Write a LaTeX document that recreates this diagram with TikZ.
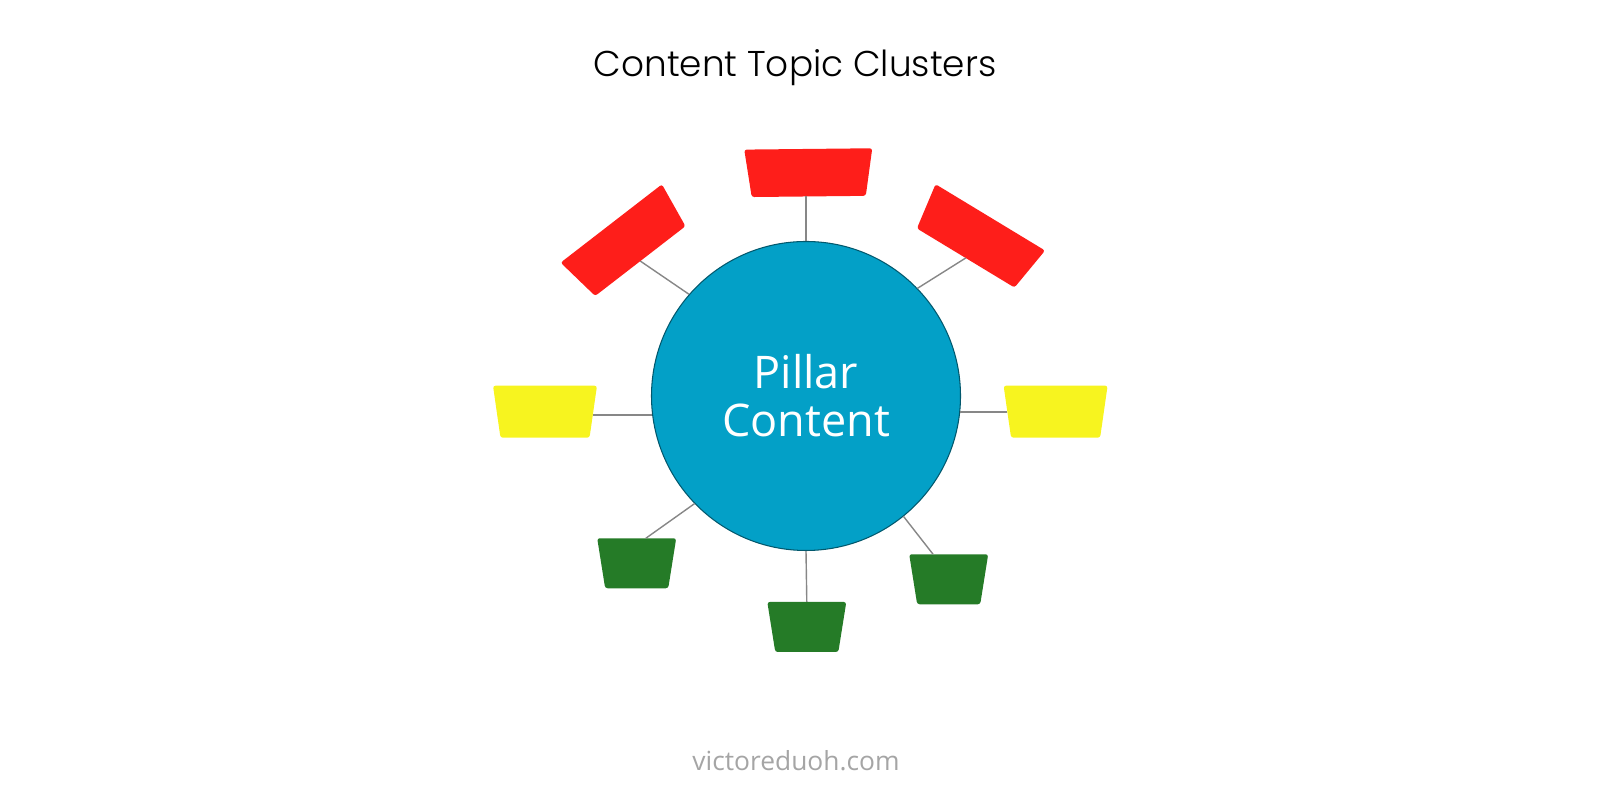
\documentclass[tikz,border=0pt]{standalone}
\usepackage{fontspec}
\setmainfont{Open Sans}
\newfontfamily\titlefont{Poppins}[UprightFont=* Light]
\usetikzlibrary{shapes.geometric}

\definecolor{pillarblue}{RGB}{3,160,199}
\definecolor{topicred}{RGB}{254,30,26}
\definecolor{topicyellow}{RGB}{247,244,31}
\definecolor{topicgreen}{RGB}{37,123,39}
\definecolor{linkgray}{RGB}{135,135,135}
\definecolor{creditgray}{RGB}{165,165,165}

\begin{document}
\begin{tikzpicture}[
    x=0.1mm, y=-0.1mm,
    pillar/.style={
        circle,
        fill=pillarblue,
        draw=pillarblue!55!black,
        line width=0.3pt,
        minimum size=30.9mm,
        inner sep=0pt,
        text=white,
        align=center,
        font=\fontsize{12.8pt}{13.6pt}\selectfont
    },
    topic/.style={
        trapezium,
        trapezium stretches=true,
        shape border rotate=180,
        rounded corners=0.25mm,
        inner sep=1pt,
        outer sep=0pt
    },
    red topic/.style={topic, trapezium angle=86.5, fill=topicred, minimum width=12.8mm, minimum height=4.75mm},
    yellow topic/.style={topic, trapezium angle=85.2, fill=topicyellow, minimum width=10.4mm, minimum height=5.2mm},
    green topic/.style={topic, trapezium angle=82.8, fill=topicgreen, minimum width=7.9mm, minimum height=5mm},
    link/.style={
        draw=linkgray,
        line width=0.4pt
    }
]
    \useasboundingbox (0,0) rectangle (1600,800);

    % --- Title and credit ---
    \node [font=\titlefont\fontsize{10.2pt}{12pt}\selectfont, anchor=base] (title) at (795,77) {Content Topic Clusters};
    \node [text=creditgray, font=\fontsize{7.5pt}{9pt}\selectfont] (credit) at (796,761) {victoreduoh.com};

    % --- Pillar ---
    \node [pillar] (pillar) at (806,396) {Pillar\\Content};

    % --- Red topics (top) ---
    \node [red topic, rotate=37.7] (r1) at (625.8,242.3) {};
    \node [red topic, rotate=0.6] (r2) at (808.5,172.7) {};
    \node [red topic, rotate=-31.2] (r3) at (978,237.7) {};

    % --- Yellow topics (sides) ---
    \node [yellow topic] (y1) at (545,411.7) {};
    \node [yellow topic] (y2) at (1055.6,411.7) {};

    % --- Green topics (bottom) ---
    \node [green topic] (g1) at (636.7,563.3) {};
    \node [green topic] (g2) at (806.8,627) {};
    \node [green topic] (g3) at (948.7,579.3) {};

    % --- Links ---
    \path [link] (pillar.139) -- (r1.south);
    \path [link] (pillar.north) -- (pillar.north |- r2.south);
    \path [link] (pillar.44) -- (r3.south);
    \path [link] (pillar.187) -- (pillar.187 -| y1.east);
    \path [link] (pillar.354) -- (pillar.354 -| y2.west);
    \path [link] (pillar.224) -- (g1.70);
    \path [link] (pillar.south) -- (g2.north);
    \path [link] (pillar.309) -- (g3.122);

\end{tikzpicture}
\end{document}
